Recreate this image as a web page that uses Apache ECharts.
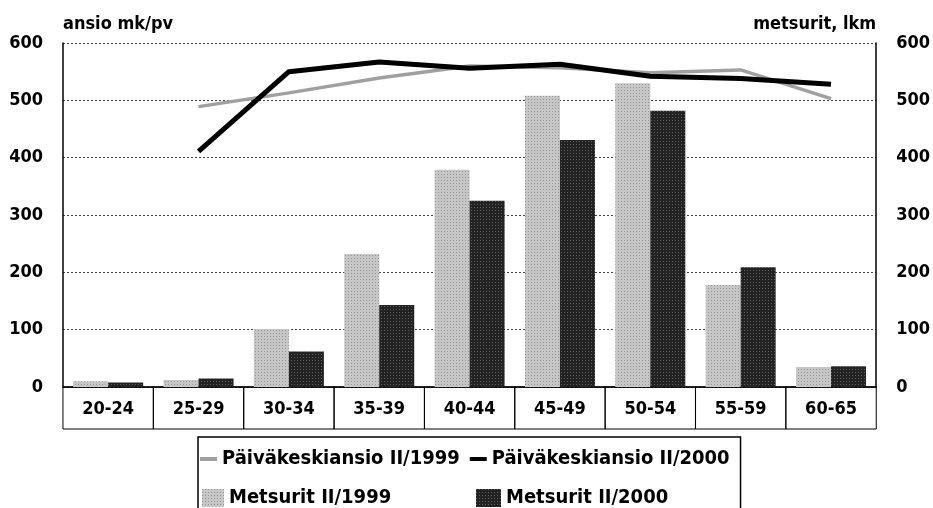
<!DOCTYPE html>
<html><head><meta charset="utf-8">
<script src="https://cdn.jsdelivr.net/npm/echarts@6/dist/echarts.min.js"></script>
<style>html,body{margin:0;padding:0;background:#fff}#c{width:933px;height:508px}</style>
</head><body><div id="c"></div>
<script>
const categories = ['20-24','25-29','30-34','35-39','40-44','45-49','50-54','55-59','60-65'];
const ansio1999 = [null,489,513,539,560,557,548,553,503];
const ansio2000 = [null,411,550,567,556,563,542,538,528];
const metsurit1999 = [10,12,101,232,379,508,530,178,35];
const metsurit2000 = [8,15,62,143,325,431,482,209,36];
const names = ['Päiväkeskiansio II/1999','Päiväkeskiansio II/2000','Metsurit II/1999','Metsurit II/2000'];
const axisTitles = ['ansio mk/pv','metsurit, lkm'];

const FONT = "'Liberation Sans Narrow','Arial Narrow','DejaVu Sans Condensed',sans-serif";
const chart = echarts.init(document.getElementById('c'), null, {renderer:'canvas'});
const txt = (size) => ({fontFamily: FONT, fontSize: size, fontWeight: 'bold', color: '#000'});

const lightBar = {color:'#c6c6c6', decal:{symbol:'rect', symbolSize:1, color:'rgba(90,90,90,0.45)', dashArrayX:[1,2], dashArrayY:[1,2]}};
const darkBar = {color:'#222', decal:{symbol:'rect', symbolSize:1, color:'rgba(255,255,255,0.28)', dashArrayX:[1,2], dashArrayY:[1,2]}};
const GRID_W = 933 - 63 - 56;

chart.setOption({
  animation: false,
  backgroundColor: '#fff',
  grid: {left: 63, right: 56, top: 43, bottom: 121, containLabel: false},
  xAxis: {type:'category', data: categories, position:'bottom',
     axisLine:{show:true, onZero:false, lineStyle:{color:'#000', width:1.5}},
     axisTick:{show:false},
     axisLabel:Object.assign({interval:0, margin:0, width:GRID_W/categories.length, height:42, lineHeight:44,
        padding:0, align:'center', borderColor:'#000', borderWidth:1}, txt(18)),
     splitLine:{show:false}},
  yAxis: [
    {type:'value', min:0, max:600, interval:100, position:'left',
     name: axisTitles[0], nameLocation:'end', nameGap:10,
     nameTextStyle: Object.assign({align:'left'}, txt(18)),
     axisLine:{show:true, lineStyle:{color:'#000', width:1.5}},
     axisTick:{show:false},
     axisLabel:Object.assign({margin:20}, txt(18)),
     splitLine:{show:true, lineStyle:{color:'#444', width:1, type:[2,2]}}},
    {type:'value', min:0, max:600, interval:100, position:'right',
     name: axisTitles[1], nameLocation:'end', nameGap:10,
     nameTextStyle: Object.assign({align:'right'}, txt(18)),
     axisLine:{show:true, lineStyle:{color:'#000', width:1.5}},
     axisTick:{show:false},
     axisLabel:Object.assign({margin:20}, txt(18)),
     splitLine:{show:false}}
  ],
  legend: [
    {data:[{name:names[0], icon:'rect'}, {name:names[1], icon:'rect'}], left:198, top:437, orient:'horizontal', itemGap:10,
     itemWidth:17, itemHeight:4, borderColor:'#000', borderWidth:1.5,
     padding:[12,11,44,2], textStyle: txt(20), selectedMode:false},
    {data:[names[2]], left:202, top:488, icon:'rect', itemWidth:22, itemHeight:18,
     padding:0, textStyle: txt(20), selectedMode:false},
    {data:[names[3]], left:476, top:488, icon:'rect', itemWidth:25, itemHeight:18,
     padding:0, textStyle: txt(20), selectedMode:false}
  ],
  series: [
    {name:names[2], type:'bar', yAxisIndex:1, data:metsurit1999, barWidth:35, barGap:'0%',
     itemStyle:lightBar},
    {name:names[3], type:'bar', yAxisIndex:1, data:metsurit2000, barWidth:35,
     itemStyle:darkBar},
    {name:names[0], type:'line', yAxisIndex:0, data:ansio1999, symbol:'none', z:5,
     lineStyle:{color:'#a0a0a0', width:3.5}, itemStyle:{color:'#a0a0a0'}},
    {name:names[1], type:'line', yAxisIndex:0, data:ansio2000, symbol:'none', z:6,
     lineStyle:{color:'#000', width:5}, itemStyle:{color:'#000'}}
  ]
});
</script></body></html>
